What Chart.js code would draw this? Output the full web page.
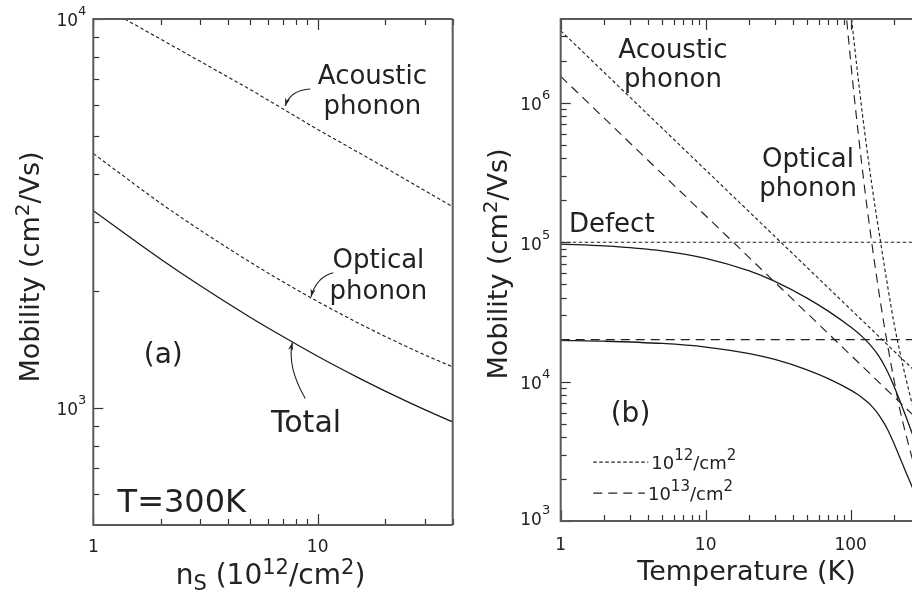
<!DOCTYPE html>
<html><head><meta charset="utf-8">
<script src="https://cdn.jsdelivr.net/npm/chart.js@4.4.0/dist/chart.umd.min.js"></script>
<style>
html,body{margin:0;padding:0;background:#fff;overflow:hidden;width:912px;height:598px;}
canvas{position:absolute;top:0;}
#c1{left:0;} #c2{left:460px;}
</style></head><body>
<canvas id="c1" width="460" height="598"></canvas>
<canvas id="c2" width="452" height="598"></canvas>
<script>
// ---------- panel (a): mobility vs carrier density at 300 K ----------
const nsAcoustic = [1, 2, 5, 10, 20, 40];
const muAcousticA = [11100, 8870, 6590, 5200, 4150, 3290];
const nsCurve = [1, 2, 3, 5, 7, 10, 15, 20, 30, 40];
const muOpticalA = [4508, 3357, 2863, 2371, 2111, 1878, 1659, 1527, 1369, 1275];
const muTotalA = [3214, 2412, 2061, 1711, 1526, 1358, 1200, 1105, 990, 920];

// ---------- panel (b): mobility vs temperature ----------
const tAcoustic = [1, 10, 100, 1000];
const muAcoustic12 = [3.3e6, 3.3e5, 3.3e4, 3.3e3];
const muAcoustic13 = [1.55e6, 1.55e5, 1.55e4, 1.55e3];
const tDefect = [1, 1000];
const muDefect12 = [1e5, 1e5];
const muDefect13 = [2e4, 2e4];
const tOptical = [90, 95, 100, 105, 110, 120, 130, 140, 150, 160, 170, 180, 200, 220, 240, 270, 300];
const muOptical12 = [1.45e7, 8.0e6, 4.69e6, 2.89e6, 1.86e6, 8.6e5, 4.5e5, 2.58e5, 1.59e5, 1.04e5, 6.93e4, 4.82e4, 2.55e4, 1.58e4, 1.06e4, 6470, 4350];
const muOptical13 = [6.4e6, 3.46e6, 1.99e6, 1.2e6, 7.64e5, 3.44e5, 1.75e5, 9.8e4, 5.92e4, 3.79e4, 2.56e4, 1.81e4, 1.0e4, 6100, 4200, 2650, 1780];
const tTotal = [1, 2, 5, 10, 20, 30, 50, 70, 100, 110, 120, 130, 140, 150, 160, 170, 180, 200, 220, 240, 270, 300];
const muTotal12 = [97060, 94290, 86840, 76740, 62270, 52380, 39760, 32040, 24680, 22790, 21040, 19375, 17762, 16197, 14684, 13166, 11723, 9160, 7140, 5640, 4060, 3020];
const muTotal13 = [19745, 19497, 18788, 17714, 15898, 14420, 12157, 10508, 8694, 8178, 7673, 7164, 6644, 6110, 5567, 5032, 4520, 3560, 2800, 2250, 1680, 1250];

// ---------- ticks ----------
const aXMajor = [1, 10];
const aXMinor = [2, 3, 4, 5, 6, 7, 8, 9, 20, 30, 40];
const aXLabels = ['1', '10'];
const aYMajor = [1e3, 1e4];
const aYMinor = [600, 700, 800, 900, 2000, 3000, 4000, 5000, 6000, 7000, 8000, 9000];
const aYExp = ['3', '4'];
const bXMajor = [1, 10, 100];
const bXMinor = [2, 3, 4, 5, 6, 7, 8, 9, 20, 30, 40, 50, 60, 70, 80, 90, 200];
const bXLabels = ['1', '10', '100'];
const bYMajor = [1e3, 1e4, 1e5, 1e6];
const bYMinor = [2e3,3e3,4e3,5e3,6e3,7e3,8e3,9e3,2e4,3e4,4e4,5e4,6e4,7e4,8e4,9e4,2e5,3e5,4e5,5e5,6e5,7e5,8e5,9e5,2e6,3e6];
const bYExp = ['3', '4', '5', '6'];

const FONT = '"DejaVu Sans", Verdana, sans-serif';
const INK = '#222';
const DOT = [3.5, 2.5];
const DASH = [9, 6];

function pts(xs, ys) { return xs.map((x, i) => ({x: x, y: ys[i]})); }
function ds(xs, ys, style) {
  return Object.assign({data: pts(xs, ys), borderColor: '#222', borderWidth: 1.1, pointRadius: 0,
    fill: false, clip: 0, tension: 0}, style);
}
function richWidth(ctx, parts) {
  let w = 0;
  for (const p of parts) { ctx.font = p.s + 'px ' + FONT; w += ctx.measureText(p.t).width; }
  return w;
}
function drawRich(ctx, parts, x, y, align) {
  const w = richWidth(ctx, parts);
  let cx = align === 'right' ? x - w : align === 'center' ? x - w / 2 : x;
  ctx.textAlign = 'left'; ctx.textBaseline = 'alphabetic';
  for (const p of parts) {
    ctx.font = p.s + 'px ' + FONT;
    ctx.fillText(p.t, cx, y + (p.dy || 0));
    cx += ctx.measureText(p.t).width;
  }
}
function arrow(ctx, s, c, t) {
  ctx.beginPath(); ctx.moveTo(s[0], s[1]); ctx.quadraticCurveTo(c[0], c[1], t[0], t[1]); ctx.stroke();
  const ang = Math.atan2(t[1] - c[1], t[0] - c[0]);
  const L = 8, W = 2.6;
  ctx.beginPath();
  ctx.moveTo(t[0], t[1]);
  ctx.lineTo(t[0] - L * Math.cos(ang) + W * Math.sin(ang), t[1] - L * Math.sin(ang) - W * Math.cos(ang));
  ctx.lineTo(t[0] - L * Math.cos(ang) * 0.7, t[1] - L * Math.sin(ang) * 0.7);
  ctx.lineTo(t[0] - L * Math.cos(ang) - W * Math.sin(ang), t[1] - L * Math.sin(ang) + W * Math.cos(ang));
  ctx.closePath(); ctx.fill();
}

function axesPlugin(cfg) {
  return {
    id: 'axesDeco',
    afterDatasetsDraw(chart) {
      const {ctx, chartArea: a, scales: {x, y}} = chart;
      const P = (vx, vy) => [x.getPixelForValue(vx), y.getPixelForValue(vy)];
      ctx.save();
      // ticks
      ctx.strokeStyle = '#333'; ctx.lineWidth = 1.2;
      const tick = (x1, y1, x2, y2) => { ctx.beginPath(); ctx.moveTo(x1, y1); ctx.lineTo(x2, y2); ctx.stroke(); };
      const xt = (vals, len) => vals.forEach(v => { const px = Math.round(x.getPixelForValue(v)) + 0.5;
        if (px > a.right + 1) return; tick(px, a.bottom, px, a.bottom - len); tick(px, a.top, px, a.top + len); });
      const yt = (vals, len) => vals.forEach(v => { const py = Math.round(y.getPixelForValue(v)) + 0.5;
        tick(a.left, py, a.left + len, py); });
      xt(cfg.xMajor, 11); xt(cfg.xMinor, 6);
      yt(cfg.yMajor, 10); yt(cfg.yMinor, 6);
      // frame
      ctx.strokeStyle = '#5a5a5a'; ctx.lineWidth = 2;
      ctx.beginPath();
      ctx.moveTo(a.right + (cfg.rightBorder ? 0 : 5), a.top); ctx.lineTo(a.left, a.top); ctx.lineTo(a.left, a.bottom);
      ctx.lineTo(a.right + (cfg.rightBorder ? 0 : 5), a.bottom);
      if (cfg.rightBorder) { ctx.moveTo(a.right, a.top); ctx.lineTo(a.right, a.bottom); }
      ctx.stroke();
      // tick labels
      ctx.fillStyle = INK;
      cfg.xMajor.forEach((v, i) => drawRich(ctx, [{t: cfg.xLabels[i], s: 17}], x.getPixelForValue(v), a.bottom + cfg.xLabelDy, 'center'));
      cfg.yMajor.forEach((v, i) => {
        const py = y.getPixelForValue(v);
        const base = Math.min(py + 7.3, a.bottom + cfg.yLabelMaxBelow);
        drawRich(ctx, [{t: '10', s: 17}, {t: cfg.yExp[i], s: 13, dy: -11}], a.left - cfg.yLabelGap, base, 'right');
      });
      // axis titles
      ctx.save();
      ctx.translate(cfg.yTitle[0], cfg.yTitle[1]); ctx.rotate(-Math.PI / 2);
      drawRich(ctx, [{t: 'Mobility (cm', s: 27}, {t: '2', s: 20, dy: -10}, {t: '/Vs)', s: 27}], 0, 0, 'center');
      ctx.restore();
      drawRich(ctx, cfg.xTitleParts, cfg.xTitle[0], cfg.xTitle[1], 'center');
      // annotations
      ctx.fillStyle = INK; ctx.strokeStyle = INK; ctx.lineWidth = 1.1;
      cfg.texts.forEach(tx => { const p = P(tx.x, tx.y); drawRich(ctx, [{t: tx.t, s: tx.s}], p[0], p[1], 'center'); });
      cfg.arrows.forEach(ar => arrow(ctx, P(ar[0], ar[1]), P(ar[2], ar[3]), P(ar[4], ar[5])));
      (cfg.legend || []).forEach(lg => {
        const p1 = P(lg.x1, lg.y), p2 = P(lg.x2, lg.y);
        ctx.save(); ctx.setLineDash(lg.dash); ctx.lineWidth = 1.1; ctx.strokeStyle = '#222';
        ctx.beginPath(); ctx.moveTo(p1[0], p1[1]); ctx.lineTo(p2[0], p2[1]); ctx.stroke(); ctx.restore();
        drawRich(ctx, [{t: '10', s: 18}, {t: lg.exp, s: 15, dy: -9}, {t: '/cm', s: 18}, {t: '2', s: 15, dy: -9}],
          p2[0] + 3, p1[1] + 6.5, 'left');
      });
      ctx.restore();
    }
  };
}

function baseOptions(xmin, xmax, ymin, ymax, pad) {
  return {
    responsive: false, animation: false, events: [],
    layout: {padding: pad},
    plugins: {legend: {display: false}, tooltip: {enabled: false}},
    scales: {
      x: {type: 'logarithmic', min: xmin, max: xmax, display: false},
      y: {type: 'logarithmic', min: ymin, max: ymax, display: false}
    }
  };
}

const solid = {borderColor: '#1a1a1a', borderWidth: 1.3, cubicInterpolationMode: 'monotone'};
const dotted = {borderDash: DOT, borderWidth: 1.15};
const dashed = {borderDash: DASH, borderWidth: 1.15};

new Chart(document.getElementById('c1'), {
  type: 'line',
  data: {datasets: [
    ds(nsAcoustic, muAcousticA, dotted),
    ds(nsCurve, muOpticalA, Object.assign({cubicInterpolationMode: 'monotone'}, dotted)),
    ds(nsCurve, muTotalA, solid)
  ]},
  options: baseOptions(1, 40, 500, 10000, {left: 93.3, right: 7.3, top: 19, bottom: 73}),
  plugins: [axesPlugin({
    xMajor: aXMajor, xMinor: aXMinor, xLabels: aXLabels, yMajor: aYMajor, yMinor: aYMinor, yExp: aYExp,
    rightBorder: true, xLabelDy: 26.7, yLabelGap: 7, yLabelMaxBelow: 99,
    yTitle: [38.5, 267],
    xTitle: [270.5, 584],
    xTitleParts: [{t: 'n', s: 28}, {t: 'S', s: 21, dy: 6}, {t: ' (10', s: 28}, {t: '12', s: 21, dy: -10},
      {t: '/cm', s: 28}, {t: '2', s: 21, dy: -10}, {t: ')', s: 28}],
    texts: [
      {t: 'Acoustic', s: 26, x: 17.55, y: 6804}, {t: 'phonon', s: 26, x: 17.55, y: 5697},
      {t: 'Optical', s: 26, x: 18.66, y: 2288}, {t: 'phonon', s: 26, x: 18.66, y: 1904},
      {t: '(a)', s: 28, x: 2.05, y: 1303}, {t: 'Total', s: 30, x: 8.88, y: 867.7},
      {t: 'T=300K', s: 32, x: 2.48, y: 540}
    ],
    arrows: [
      [9.28, 6605, 7.55, 6566, 7.17, 5974],
      [11.75, 2225, 9.9, 2173, 9.34, 1930],
      [8.81, 1057, 7.3, 1275, 7.71, 1474]
    ]
  })]
});

new Chart(document.getElementById('c2'), {
  type: 'line',
  data: {datasets: [
    ds(tAcoustic, muAcoustic12, dotted),
    ds(tAcoustic, muAcoustic13, dashed),
    ds(tDefect, muDefect12, dotted),
    ds(tDefect, muDefect13, dashed),
    ds(tOptical, muOptical12, Object.assign({cubicInterpolationMode: 'monotone'}, dotted)),
    ds(tOptical, muOptical13, Object.assign({cubicInterpolationMode: 'monotone'}, dashed)),
    ds(tTotal, muTotal12, solid),
    ds(tTotal, muTotal13, solid)
  ]},
  options: baseOptions(1, 264.8, 1000, 4e6, {left: 100.7, right: 0, top: 19, bottom: 77}),
  plugins: [axesPlugin({
    xMajor: bXMajor, xMinor: bXMinor, xLabels: bXLabels, yMajor: bYMajor, yMinor: bYMinor, yExp: bYExp,
    rightBorder: false, xLabelDy: 29, yLabelGap: 10.5, yLabelMaxBelow: 4,
    yTitle: [46.7, 264],
    xTitle: [286.5, 580],
    xTitleParts: [{t: 'Temperature (K)', s: 27}],
    texts: [
      {t: 'Acoustic', s: 26, x: 5.95, y: 2.116e6}, {t: 'phonon', s: 26, x: 5.95, y: 1.29e6},
      {t: 'Optical', s: 26, x: 50.8, y: 3.477e5}, {t: 'phonon', s: 26, x: 50.8, y: 2.144e5},
      {t: 'Defect', s: 26, x: 2.25, y: 1.19e5}, {t: '(b)', s: 28, x: 3.03, y: 5140}
    ],
    arrows: [],
    legend: [
      {x1: 1.678, x2: 4.02, y: 2644, dash: DOT, exp: '12'},
      {x1: 1.678, x2: 3.81, y: 1585, dash: DASH, exp: '13'}
    ]
  })]
});
</script>
</body></html>
